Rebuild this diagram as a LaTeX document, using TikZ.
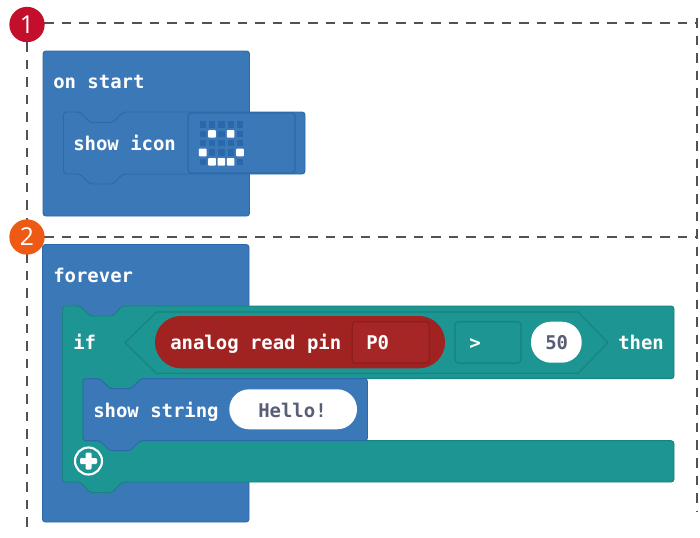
\documentclass[tikz,border=0pt]{standalone}
\usepackage{fontspec}
\setmainfont{Open Sans}
\setmonofont{DejaVu Sans Mono}
\definecolor{blk}{HTML}{3B78B7}
\definecolor{blkd}{HTML}{2C69AA}
\definecolor{ledoff}{HTML}{2A68AC}
\definecolor{tea}{HTML}{1D9592}
\definecolor{tead}{HTML}{17827F}
\definecolor{rd}{HTML}{A02322}
\definecolor{rdl}{HTML}{A62625}
\definecolor{rdd}{HTML}{8C1E1E}
\definecolor{txd}{HTML}{575E75}
\definecolor{one}{HTML}{C30F2C}
\definecolor{two}{HTML}{EE5A14}
\tikzset{
  x=0.75pt,y=-0.75pt,
  guide/.style={draw=black!68,line width=0.85pt,dash pattern=on 7.2pt off 6pt},
  badge/.style={circle,inner sep=0pt,minimum size=26.5pt,text=white,font=\fontsize{18.5pt}{20pt}\selectfont},
  blue/.style={fill=blk,draw=blkd,line width=0.7pt,rounded corners=2.2pt},
  teal/.style={fill=tea,draw=tead,line width=0.7pt,rounded corners=2.2pt},
  lbl/.style={anchor=base west,inner sep=0pt,text=white,font=\ttfamily\bfseries\fontsize{14.2pt}{16pt}\selectfont},
  dlbl/.style={lbl,text=txd},
  fld/.style={line width=0.9pt,rounded corners=2.5pt},
  led/.style={fill=ledoff},
  ledon/.style={fill=white}
}
\begin{document}
\begin{tikzpicture}
\useasboundingbox (0,0) rectangle (700,537);
\fill[white] (0,0) rectangle (700,537);
% guides
\coordinate (gA) at (44,23); \coordinate (gB) at (697,23);
\coordinate (gC) at (44,237); \coordinate (gD) at (697,237);
\coordinate (gE) at (27,42); \coordinate (gF) at (27,530);
\coordinate (gG) at (697,18); \coordinate (gH) at (697,512);
\path[guide] (gA) -- (gB);
\path[guide] (gC) -- (gD);
\path[guide] (gE) -- (gF);
\path[guide] (gG) -- (gH);
% first group
\draw[blue] (43,51) rectangle (249.5,216);
\draw[blue] (63.5,112) -- (80,112) -- (90,122.5) -- (113,122.5) -- (123,112) -- (305,112) -- (305,174) -- (123,174) -- (113,184) -- (90,184) -- (80,174) -- (63.5,174) -- cycle;
\draw[fld,fill=blk,draw=blkd] (188,113) rectangle (295,173);
\foreach \i in {0,...,4}\foreach \j in {0,...,4}
  \fill[led] ({199.6+9.33*\i},{121.4+9.33*\j}) rectangle +(6.4,6.4);
\foreach \i/\j in {1/1,3/1,0/3,4/3,1/4,2/4,3/4}
  \fill[ledon,rounded corners=0.6pt] ({198.9+9.33*\i},{120.7+9.33*\j}) rectangle +(7.6,7.6);
\node[lbl] (onstart) at (53,88) {on start};
\node[lbl] (showicon) at (73,150.5) {show icon};
% second group
\draw[blue] (42.5,244.5) rectangle (249,522);
\draw[teal] (62.5,306) -- (80,306) -- (90,316) -- (113,316) -- (122,306) -- (674,306) -- (674,378.7) -- (141,378.7) -- (131,388.7) -- (110,388.7) -- (100,378.7) -- (83,378.7) -- (83,440.7) -- (674,440.7) -- (674,482) -- (122,482) -- (112,492.5) -- (90,492.5) -- (80,482) -- (62.5,482) -- cycle;
\draw[tead,line width=0.8pt,fill=tea] (125,342.7) -- (156.5,312) -- (578,312) -- (608,342.7) -- (578,373.3) -- (156.5,373.3) -- cycle;
\fill[rd,rounded corners=19.5pt] (155,316) rectangle (445,368.3);
\draw[fld,draw=rdd,fill=rdl] (352.3,321.7) rectangle (429.3,363);
\draw[fld,draw=tead,fill=tea] (455,321.7) rectangle (521,363);
\fill[white,rounded corners=15pt] (531,321.7) rectangle (581.7,362.7);
\draw[blue] (83,378.7) -- (100,378.7) -- (110,388.7) -- (131,388.7) -- (141,378.7) -- (367.5,378.7) -- (367.5,440.7) -- (140,440.7) -- (130,450.7) -- (110,450.7) -- (100,440.7) -- (83,440.7) -- cycle;
\fill[white,rounded corners=14.9pt] (229.3,389.3) rectangle (357,429.3);
\node[lbl] (forever) at (53,282.5) {forever};
\node[lbl] (ifl) at (73,349.2) {if};
\node[lbl] (analog) at (170,349.2) {analog read pin};
\node[lbl] (pzero) at (366,349.2) {P0};
\node[lbl] (gt) at (469,349.2) {>};
\node[dlbl] (fifty) at (545,349.2) {50};
\node[lbl] (thenl) at (618,349.2) {then};
\node[lbl] (showstr) at (93,417) {show string};
\node[dlbl] (hello) at (258,417) {Hello!};
% plus button
\draw[white,line width=1.6pt] (88.5,461) circle (13.5);
\fill[white,rounded corners=0.8pt] (85.5,452.5) rectangle (91.5,469.5);
\fill[white,rounded corners=0.8pt] (80,458) rectangle (97,464);
% badges
\node[badge,fill=one] (bone) at (27,24.5) {1};
\node[badge,fill=two] (btwo) at (27,237) {2};
\end{tikzpicture}
\end{document}
